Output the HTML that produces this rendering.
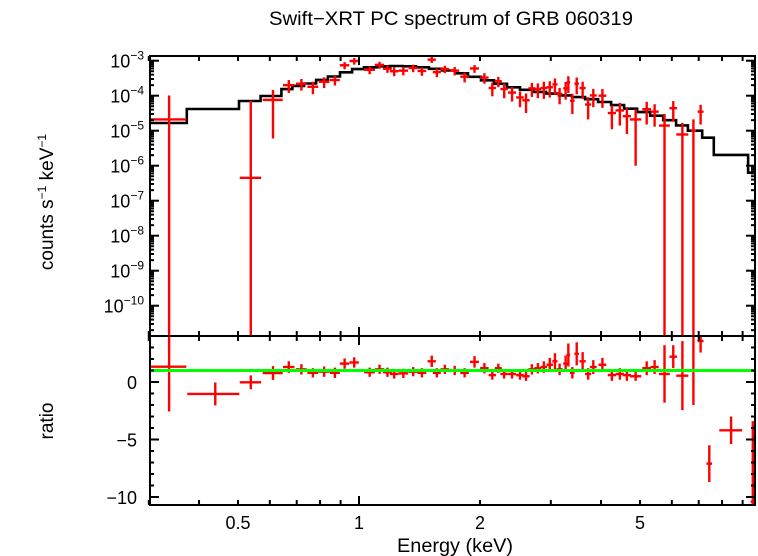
<!DOCTYPE html>
<html><head><meta charset="utf-8"><style>
html,body{margin:0;padding:0;background:#fff;}
svg{display:block;font-family:"Liberation Sans",Arial,sans-serif;}
</style></head><body>
<svg id="chart" width="758" height="556" viewBox="0 0 758 556" xmlns="http://www.w3.org/2000/svg">
<text x="451" y="25" font-size="19" text-anchor="middle" textLength="364" lengthAdjust="spacingAndGlyphs">Swift−XRT PC spectrum of GRB 060319</text>
<text transform="translate(53,202) rotate(-90)" font-size="19" text-anchor="middle">counts s<tspan font-size="12" dy="-7">−1</tspan><tspan dy="7"> keV</tspan><tspan font-size="12" dy="-7">−1</tspan></text>
<text transform="translate(53,421) rotate(-90)" font-size="19" text-anchor="middle">ratio</text>
<text x="455" y="552" font-size="19" text-anchor="middle" textLength="116" lengthAdjust="spacingAndGlyphs">Energy (keV)</text>
<g id="topPanel"></g>
<g id="botPanel"></g>
</svg>
<script>
// ---- data ----
const modelEdges = [0.302,0.373,0.503,0.569,0.641,0.683,0.730,0.782,0.837,0.897,0.961,1.029,1.109,1.194,1.286,1.386,1.493,1.608,1.733,1.867,2.011,2.167,2.334,2.515,2.71,2.92,3.146,3.389,3.651,3.934,4.238,4.566,4.919,5.30,5.71,6.15,6.58,7.14,7.63,9.29,9.63];
const modelLog = [-4.78,-4.38,-4.15,-4.01,-3.81,-3.72,-3.65,-3.55,-3.45,-3.33,-3.24,-3.19,-3.16,-3.15,-3.16,-3.19,-3.23,-3.28,-3.36,-3.46,-3.56,-3.66,-3.76,-3.83,-3.89,-3.94,-3.99,-4.04,-4.10,-4.18,-4.27,-4.37,-4.47,-4.57,-4.70,-4.85,-5.00,-5.20,-5.69,-6.2];
const energy = [0.337,0.439,0.538,0.611,0.669,0.719,0.768,0.819,0.871,0.921,0.973,1.063,1.125,1.177,1.223,1.289,1.364,1.434,1.517,1.562,1.635,1.730,1.831,1.938,2.051,2.146,2.221,2.297,2.403,2.515,2.603,2.692,2.786,2.883,2.982,3.072,3.155,3.266,3.317,3.394,3.480,3.600,3.715,3.827,4.032,4.257,4.455,4.639,4.877,5.196,5.437,5.754,6.050,6.375,6.790,7.076,7.437,8.425,9.541];
const energyHalf = [0.035,0.065,0.033,0.035,0.022,0.022,0.024,0.025,0.025,0.025,0.026,0.033,0.03,0.03,0.03,0.036,0.036,0.036,0.036,0.036,0.04,0.045,0.045,0.05,0.05,0.045,0.045,0.05,0.055,0.055,0.055,0.055,0.055,0.055,0.055,0.045,0.055,0.045,0.035,0.045,0.045,0.065,0.065,0.075,0.09,0.1,0.11,0.11,0.16,0.13,0.13,0.18,0.13,0.22,0.1,0.12,0.12,0.55,0.12];
const counts = [2.1e-5,null,4.5e-7,7.6e-5,2.0e-4,2.2e-4,1.8e-4,2.5e-4,2.8e-4,7.4e-4,9.8e-4,5.5e-4,7.6e-4,5.9e-4,5.0e-4,5.2e-4,6.2e-4,5.1e-4,1.07e-3,4.7e-4,5.8e-4,5.2e-4,3.5e-4,6.0e-4,3.3e-4,1.66e-4,2.6e-4,1.55e-4,1.23e-4,8.9e-5,7.4e-5,1.62e-4,1.55e-4,1.66e-4,1.74e-4,2.1e-4,1.12e-4,1.62e-4,2.4e-4,7.2e-5,2.2e-4,1.66e-4,5.6e-5,1.02e-4,1.0e-4,3.2e-5,3.8e-5,2.6e-5,2.1e-5,4.1e-5,3.5e-5,1.4e-5,4.4e-5,7.8e-6,1.0e-5,3.5e-5,null,null,null];
const countsErr = [8e-5,null,7e-5,7e-5,8e-5,8e-5,7e-5,8.5e-5,8.5e-5,1.7e-4,2.1e-4,1.4e-4,1.7e-4,1.4e-4,1.4e-4,1.4e-4,1.5e-4,1.4e-4,2.1e-4,1.3e-4,1.4e-4,1.4e-4,1.1e-4,1.5e-4,1.1e-4,7e-5,8.5e-5,7e-5,5.5e-5,4.2e-5,4.2e-5,7e-5,7e-5,8.5e-5,8.5e-5,1e-4,5.5e-5,8.5e-5,1.2e-4,4.2e-5,1.1e-4,8.5e-5,3.5e-5,5.5e-5,5.5e-5,2.1e-5,2.4e-5,1.8e-5,2e-5,2.6e-5,2.2e-5,1.6e-5,2.6e-5,9e-6,1.1e-5,2e-5,null,null,null];
const ratio = [1.33,-1.04,-0.03,0.78,1.3,1.1,0.8,0.9,0.8,1.6,1.7,0.85,1.1,0.85,0.7,0.75,0.9,0.8,1.8,0.8,1.1,1.0,0.8,1.75,1.2,0.6,1.2,0.7,0.7,0.6,0.5,1.1,1.2,1.3,1.5,1.8,1.1,1.6,2.35,0.8,2.45,1.8,0.7,1.3,1.5,0.6,0.7,0.6,0.5,1.2,1.3,0.7,2.2,0.55,1.0,3.56,-7.1,-4.2,-10.4];
const ratioErr = [3.9,1.0,0.6,0.6,0.5,0.45,0.4,0.45,0.45,0.45,0.45,0.4,0.4,0.4,0.4,0.4,0.4,0.4,0.5,0.4,0.4,0.4,0.4,0.5,0.45,0.4,0.4,0.4,0.4,0.4,0.4,0.45,0.45,0.5,0.6,0.7,0.5,0.7,1.0,0.5,1.0,0.8,0.5,0.6,0.6,0.5,0.5,0.5,0.4,0.6,0.6,2.5,1.0,3.0,3.0,1.0,1.6,1.2,7.0];
const xTickVals = [0.5,1,2,5];
const xTickLabels = ["0.5","1","2","5"];
const xMinorVals = [0.3,0.4,0.6,0.7,0.8,0.9,3,4,6,7,8,9];
const yDecades = [-3,-4,-5,-6,-7,-8,-9,-10];
const ratioTicks = [0,-5,-10];
const ratioTickLabels = ["0","\u22125","\u221210"];

// ---- layout ----
const L=150,R=755,T=56,M=336,B=505;
const NS='http://www.w3.org/2000/svg';
const xS=e=>359+402*Math.log10(e);
const yTop=v=>60.7-35*(Math.log10(v)+3);
const yTopLog=lg=>60.7-35*(lg+3);
const yBot=r=>382-11.5*r;
function mk(parent,tag,attrs){const el=document.createElementNS(NS,tag);for(const k in attrs)el.setAttribute(k,attrs[k]);parent.appendChild(el);return el;}
const topG=document.getElementById('topPanel'), botG=document.getElementById('botPanel');
const clampT=y=>Math.max(T,Math.min(M,y)), clampB=y=>Math.max(M,Math.min(B,y));

let d='';
for(let i=0;i<modelLog.length;i++){
  const x0=Math.max(L,xS(modelEdges[i])),x1=Math.min(R,xS(modelEdges[i+1])),y=yTopLog(modelLog[i]);
  d+=(i===0?'M':'L')+x0.toFixed(1)+','+y.toFixed(1)+'L'+x1.toFixed(1)+','+y.toFixed(1);
}
const mp=mk(topG,'path',{d:d,fill:'none',stroke:'#000','stroke-width':2.6});



for(let i=0;i<energy.length;i++){
  const x=xS(energy[i]),x0=Math.max(L,xS(energy[i]-energyHalf[i])),x1=Math.min(R,xS(energy[i]+energyHalf[i]));
  if(counts[i]!==null){
    const g=mk(topG,'g',{stroke:'#f00','stroke-width':2.4});
    
    
    const y=yTop(counts[i]);
    const lo=counts[i]-countsErr[i];
    const yl=lo>0?clampT(yTop(lo)):M, yh=clampT(yTop(counts[i]+countsErr[i]));
    if(y>=T&&y<=M) mk(g,'line',{x1:x0,x2:x1,y1:y,y2:y});
    mk(g,'line',{x1:x,x2:x,y1:yh,y2:yl});
  }
  const g2=mk(botG,'g',{stroke:'#f00','stroke-width':2.4});
  
  
  const yr=yBot(ratio[i]);
  if(yr>=M&&yr<=B) mk(g2,'line',{x1:x0,x2:x1,y1:yr,y2:yr});
  mk(g2,'line',{x1:x,x2:x,y1:clampB(yBot(ratio[i]+ratioErr[i])),y2:clampB(yBot(ratio[i]-ratioErr[i]))});
}
const gl=mk(botG,'line',{x1:L,x2:R,y1:yBot(1),y2:yBot(1),stroke:'#0f0','stroke-width':3});



const svg=document.getElementById('chart');
const ax=mk(svg,'g',{stroke:'#000','stroke-width':2,fill:'none'});


mk(ax,'rect',{x:L,y:T,width:R-L,height:M-T});
mk(ax,'rect',{x:L,y:M,width:R-L,height:B-M});
function xt(v,len){const x=xS(v);
  mk(ax,'line',{x1:x,x2:x,y1:T,y2:T+len});mk(ax,'line',{x1:x,x2:x,y1:M,y2:M-len});
  mk(ax,'line',{x1:x,x2:x,y1:M,y2:M+len});mk(ax,'line',{x1:x,x2:x,y1:B,y2:B-len});}
xTickVals.forEach(v=>xt(v,v===1?9:5));
xMinorVals.forEach(v=>xt(v,5));
xTickVals.forEach((v,i)=>{const t=mk(svg,'text',{x:xS(v),y:529,'font-size':18,'text-anchor':'middle'});
  
  
  t.textContent=xTickLabels[i];});
for(let dd=-11;dd<=-3;dd++){
  for(let m=1;m<=9;m++){const v=m*Math.pow(10,dd);const y=yTop(v);if(y<T||y>M)continue;const len=m===1?9:4;
    mk(ax,'line',{x1:L,x2:L+len,y1:y,y2:y});mk(ax,'line',{x1:R,x2:R-len,y1:y,y2:y});}
}
yDecades.forEach(dd=>{const y=yTopLog(dd);
  const t=mk(svg,'text',{x:144,y:y+7,'font-size':18,'text-anchor':'end'});
  
  
  const a=document.createElementNS(NS,'tspan');a.textContent='10';t.appendChild(a);
  const b=document.createElementNS(NS,'tspan');b.setAttribute('font-size','12');b.setAttribute('dy','-8');b.textContent='\u2212'+(-dd);t.appendChild(b);
});
for(let r=3;r>=-10;r--){const y=yBot(r);const len=(r%5===0)?9:4;
  mk(ax,'line',{x1:L,x2:L+len,y1:y,y2:y});mk(ax,'line',{x1:R,x2:R-len,y1:y,y2:y});}
ratioTicks.forEach((r,i)=>{const t=mk(svg,'text',{x:137,y:yBot(r)+7,'font-size':18,'text-anchor':'end'});
  
  
  t.textContent=ratioTickLabels[i];});
</script>
</body></html>
